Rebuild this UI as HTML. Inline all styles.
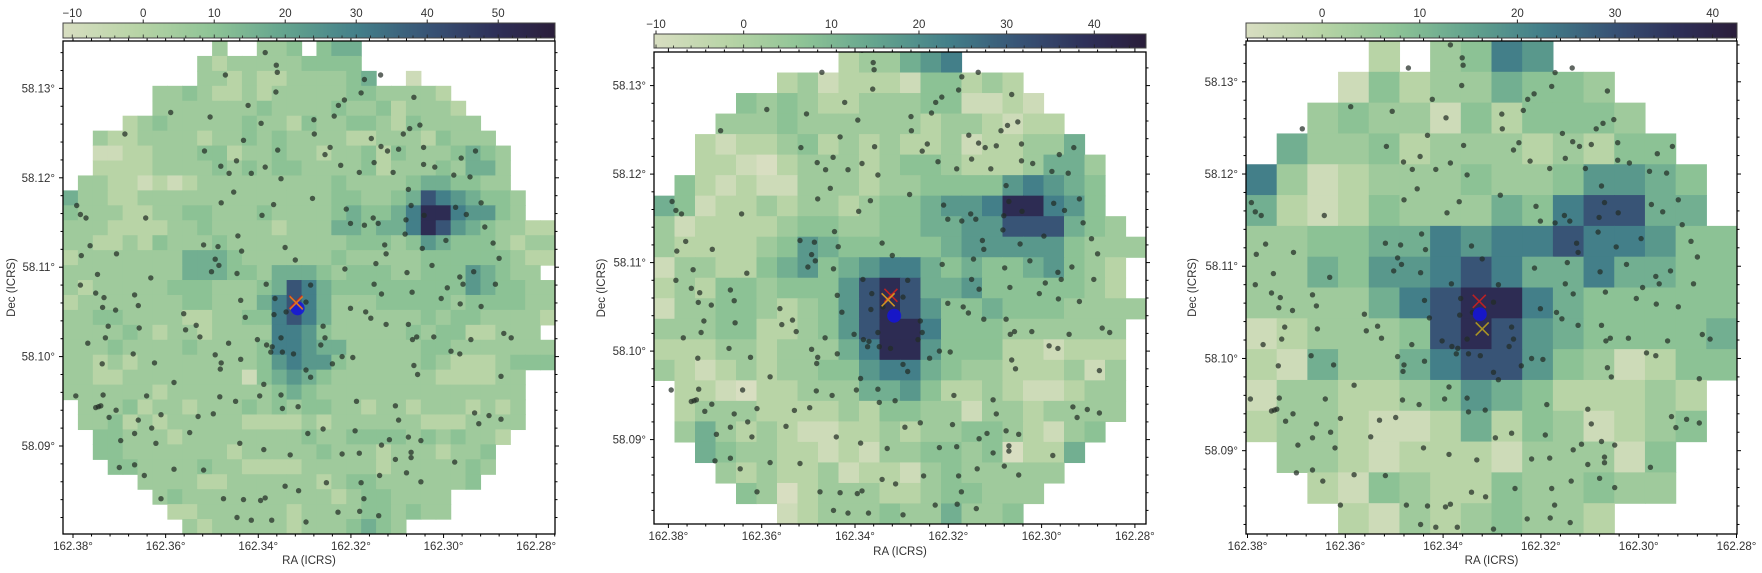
<!DOCTYPE html>
<html><head><meta charset="utf-8"><title>Sky density maps</title>
<style>
html,body{margin:0;padding:0;background:#fff;}
svg{display:block;font-family:"Liberation Sans","DejaVu Sans",sans-serif;}
</style></head>
<body>
<svg id="chart" width="1762" height="573" viewBox="0 0 1762 573" xmlns="http://www.w3.org/2000/svg"></svg>
<script>
// ---------- data ----------
const raTicks = [162.38,162.36,162.34,162.32,162.30,162.28];
const raTickLabels = ["162.38°","162.36°","162.34°","162.32°","162.30°","162.28°"];
const decTicks = [58.13,58.12,58.11,58.10,58.09];
const decTickLabels = ["58.13°","58.12°","58.11°","58.10°","58.09°"];
const levelT = [0.0,0.05,0.15,0.24,0.31,0.40,0.50,0.60,0.74,0.90];

const grid1 = [
"..........3"+"..334.455.."+"...........",
".........32"+"333334444.."+"...........",
".........33"+"2322333345."+".1.........",
"......33432"+"23233333443"+"3332.......",
"......33333"+"33433334334"+"23332......",
"....2343333"+"34332433443"+"243333.....",
"..322333323"+"34343333223"+"3324333....",
"..112233344"+"23343323342"+"43334543...",
"..222233334"+"34344333342"+"33343553...",
".3322121233"+"33333334333"+"34554433...",
"53322333333"+"33333334433"+"458765443..",
"43332233443"+"33433334544"+"579976643..",
"33322223343"+"33323335545"+"57986543322",
"33223243334"+"33333333444"+"34654443233",
"23333333555"+"43333334333"+"33444444322",
"33333333555"+"44355543444"+"3344465433.",
"32333334443"+"33458754444"+"44444654433",
"23333333443"+"33578753334"+"44443444433",
"33443333223"+"34478753333"+"33434433332",
"33334323323"+"33377643333"+"3434422333.",
"33343333433"+"33477655333"+"33443333333",
"33232333333"+"33467664333"+"33432223444",
"33223333333"+"31456543333"+"333222233..",
"33333323333"+"33345433333"+"333333333..",
".3334233233"+"34343443323"+"323332323..",
".3342323333"+"32222323333"+"332223333..",
"..443332333"+"33333433444"+"43434332...",
"..443333333"+"23333343332"+"3332334....",
"...44333343"+"32222333332"+"3333343....",
".....333322"+"33333323443"+"333334.....",
"......34333"+"33333332344"+"3333.......",
".......2233"+"33332333344"+"3433.......",
"........323"+"33332333454"+"3.........."
];
const grid2 = [
".........233567.........",
"......231222144232......",
"....434322333441121.....",
"...33343333332332122....",
"..2122342323223122335...",
"..22102333234432223553..",
".421211333233444467654..",
"5412232332344566799764..",
"31222234433445566888543.",
"322223465444445666664333",
"13322456456775454456432.",
"23244344468985564444432.",
"133443234689864454443333",
"33344223468997444333333.",
"22233233357996444221222.",
"32123233446775433222313.",
".2210223335564223211233.",
".2333222232443313323333.",
".353232112232334432134..",
"..5433221213344340225...",
"...32322312213433333....",
"....430233322344333.....",
"......123334335334......"
];
const grid3 = [
"....2.3476......",
"...142335443....",
"..34331424443...",
".5334233323244..",
"731233343346654.",
"521243335478855.",
"3344557677877644",
"3354667875575544",
"3333578997544444",
"1233348986544445",
"2153357886431244",
"133223465422232.",
"233211252431234.",
".3321222133314..",
"..214322433433..",
"...213234332...."
];
const pointRA = [162.3385,162.3361,162.3359,162.3471,162.3136,162.3171,162.3362,162.3178,162.3064,162.3422,162.3227,162.3214,162.3589,162.3504,162.3236,162.3280,162.3394,162.3051,162.3073,162.3087,162.3279,162.3688,162.3432,162.3156,162.3245,162.3135,162.3516,162.3358,162.3121,162.3097,162.3043,162.2931,162.2962,162.3256,162.3447,162.3481,162.3385,162.3222,162.3150,162.3043,162.3019,162.3463,162.3415,162.3182,162.3109,162.2978,162.2943,162.3351,162.3453,162.3076,162.3283,162.3480,162.3367,162.2919,162.3070,162.2974,162.3792,162.3784,162.3772,162.3643,162.3392,162.3210,162.3042,162.2951,162.3081,162.3152,162.3201,162.3141,162.3171,162.2911,162.3444,162.3083,162.2995,162.3763,162.3518,162.3487,162.3436,162.3127,162.3124,162.2893,162.3342,162.3046,162.3782,162.3706,162.3493,162.2880,162.3485,162.3320,162.3501,162.3446,162.3146,162.3213,162.3025,162.3079,162.2935,162.2965,162.3747,162.3632,162.3383,162.3287,162.3150,162.2958,162.2888,162.3784,162.2992,162.3751,162.3733,162.3667,162.3068,162.3134,162.3005,162.3364,162.3438,162.3297,162.2964,162.3736,162.3708,162.3659,162.3201,162.2919,162.3561,162.3366,162.3340,162.3168,162.3157,162.3428,162.3076,162.3724,162.3534,162.3124,162.3657,162.3260,162.3557,162.3526,162.3730,162.3058,162.3067,162.3021,162.2854,162.2870,162.2941,162.3402,162.3351,162.3256,162.3464,162.3382,162.3370,162.3768,162.3265,162.3670,162.3493,162.3373,162.3348,162.3324,162.2984,162.2965,162.3219,162.3196,162.3737,162.3624,162.3480,162.3482,162.3438,162.3240,162.3064,162.3297,162.3056,162.3287,162.2876,162.3582,162.3388,162.3794,162.3735,162.3641,162.3397,162.3351,162.3483,162.3449,162.3188,162.3751,162.3745,162.3740,162.3104,162.3722,162.3707,162.3659,162.3610,162.3530,162.3497,162.3314,162.3348,162.2933,162.2902,162.2876,162.3097,162.2924,162.3630,162.3667,162.3260,162.3293,162.3191,162.3548,162.3076,162.3117,162.3049,162.3697,162.3621,162.3440,162.3388,162.3134,162.3182,162.3219,162.3331,162.3070,162.3070,162.3104,162.2976,162.3667,162.3700,162.3582,162.3518,162.3646,162.3138,162.3080,162.3253,162.3178,162.3049,162.3342,162.3313,162.3610,162.3475,162.3432,162.3395,162.3385,162.3172,162.3228,162.3181,162.3140,162.3446,162.3415,162.3371,162.3297];
const pointDec = [58.1340,58.1326,58.1318,58.1315,58.1315,58.1310,58.1296,58.1295,58.1290,58.1281,58.1281,58.1287,58.1273,58.1268,58.1269,58.1265,58.1261,58.1259,58.1255,58.1249,58.1249,58.1249,58.1242,58.1244,58.1234,58.1235,58.1230,58.1231,58.1230,58.1232,58.1234,58.1230,58.1222,58.1226,58.1219,58.1213,58.1212,58.1214,58.1217,58.1215,58.1212,58.1205,58.1205,58.1206,58.1206,58.1203,58.1201,58.1199,58.1184,58.1187,58.1177,58.1172,58.1170,58.1172,58.1169,58.1167,58.1169,58.1159,58.1155,58.1155,58.1158,58.1165,58.1158,58.1159,58.1153,58.1155,58.1149,58.1149,58.1147,58.1145,58.1135,58.1137,58.1130,58.1124,58.1125,58.1123,58.1118,58.1125,58.1115,58.1127,58.1122,58.1121,58.1113,58.1115,58.1109,58.1110,58.1102,58.1108,58.1095,58.1093,58.1104,58.1098,58.1102,58.1094,58.1095,58.1089,58.1092,58.1088,58.1081,58.1080,58.1081,58.1081,58.1081,58.1080,58.1077,58.1071,58.1066,58.1069,58.1072,58.1070,58.1065,58.1065,58.1063,58.1061,58.1059,58.1055,58.1052,58.1057,58.1054,58.1056,58.1048,58.1047,58.1050,58.1050,58.1043,58.1044,58.1036,58.1034,58.1035,58.1036,58.1032,58.1034,58.1030,58.1022,58.1021,58.1022,58.1019,58.1022,58.1021,58.1026,58.1019,58.1019,58.1021,58.1021,58.1015,58.1013,58.1011,58.1015,58.1013,58.1003,58.1002,58.1005,58.1005,58.1003,58.1006,58.1003,58.1000,58.0999,58.0992,58.0993,58.0993,58.0986,58.0997,58.0992,58.0990,58.0985,58.0980,58.0977,58.0978,58.0971,58.0969,58.0956,58.0957,58.0956,58.0956,58.0957,58.0955,58.0950,58.0950,58.0943,58.0944,58.0945,58.0945,58.0932,58.0940,58.0929,58.0935,58.0933,58.0936,58.0944,58.0942,58.0937,58.0934,58.0930,58.0929,58.0925,58.0920,58.0914,58.0919,58.0914,58.0917,58.0915,58.0910,58.0907,58.0906,58.0906,58.0903,58.0903,58.0896,58.0901,58.0892,58.0891,58.0890,58.0893,58.0887,58.0885,58.0882,58.0879,58.0876,58.0874,58.0873,58.0867,58.0867,58.0870,58.0859,58.0859,58.0860,58.0855,58.0850,58.0841,58.0841,58.0840,58.0839,58.0842,58.0841,58.0826,58.0827,58.0822,58.0820,58.0817,58.0817,58.0815];
const markerNames = ["red-cross","orange-cross","blue-circle"];
const markerRA1 = [162.3319,162.3318,162.3315];
const markerDec1 = [58.1061,58.1060,58.1054];
const markerRA2 = [162.3323,162.3329,162.3316];
const markerDec2 = [58.1063,58.1058,58.1040];
const markerRA3 = [162.3326,162.3320,162.3325];
const markerDec3 = [58.1062,58.1032,58.1048];
const cbTicks1 = [-10,0,10,20,30,40,50];
const cbTicks2 = [-10,0,10,20,30,40];
const cbTicks3 = [0,10,20,30,40];

// ---------- layout ----------
const panels = [
 {id:1, ax:{x:63,y:41,w:492,h:493}, cb:{y:23,h:15}, vmin:-11.3, vmax:58.0, ra0:73.0, raS:4632, dec0:88.4, decS:8940, grid:grid1, cbt:cbTicks1, mra:markerRA1, mdec:markerDec1, xlab:{y:564}, tlab:550, dlx:12, xcol:"#e08020"},
 {id:2, ax:{x:654,y:52,w:492,h:472}, cb:{y:34,h:14}, vmin:-10.23, vmax:45.9, ra0:668.4, raS:4665, dec0:85.6, decS:8850, grid:grid2, cbt:cbTicks2, mra:markerRA2, mdec:markerDec2, xlab:{y:555}, tlab:540, dlx:602, xcol:"#e0a020"},
 {id:3, ax:{x:1246,y:41,w:491,h:493}, cb:{y:23,h:15}, vmin:-7.8, vmax:42.5, ra0:1247.5, raS:4890, dec0:81.8, decS:9222, grid:grid3, cbt:cbTicks3, mra:markerRA3, mdec:markerDec3, xlab:{y:564}, tlab:550, dlx:1193, xcol:"#b8a020"}
];
const stops = [[0,[216,222,193]],[0.15,[184,212,166]],[0.3,[143,196,150]],[0.45,[100,164,142]],[0.6,[67,127,137]],[0.74,[56,84,118]],[0.88,[46,47,88]],[1,[42,29,58]]];
function cmap(t){t=Math.max(0,Math.min(1,t));for(let i=1;i<stops.length;i++){if(t<=stops[i][0]){const a=stops[i-1],b=stops[i];const f=(t-a[0])/(b[0]-a[0]);const c=a[1].map((v,k)=>Math.round(v+(b[1][k]-v)*f));return `rgb(${c[0]},${c[1]},${c[2]})`;}}return "rgb(42,29,58)";}

const NS="http://www.w3.org/2000/svg";
const svg=document.getElementById('chart');
function mk(tag,attrs,parent){const e=document.createElementNS(NS,tag);for(const k in attrs)e.setAttribute(k,attrs[k]);(parent||svg).appendChild(e);return e;}
const txtCol="#333";

const defs=mk('defs',{});
const grad=mk('linearGradient',{id:'cbgrad',x1:'0',x2:'1',y1:'0',y2:'0'},defs);
for(let i=0;i<=40;i++){const t=i/40;mk('stop',{offset:t,'stop-color':cmap(t)},grad);}

panels.forEach(p=>{
  const A=p.ax;
  const xOf=ra=>p.ra0+(162.38-ra)*p.raS;
  const yOf=dec=>p.dec0+(58.13-dec)*p.decS;
  const g=mk('g',{});
  
  
  const cp=mk('clipPath',{id:'clip'+p.id},defs);
  mk('rect',{x:A.x,y:A.y,width:A.w,height:A.h},cp);

  const hm=mk('g',{'clip-path':`url(#clip${p.id})`},g);
  
  
  const nr=p.grid.length;
  let nc=0;p.grid.forEach(r=>{nc=Math.max(nc,r.length);});
  const cw=A.w/nc, ch=A.h/nr;
  p.grid.forEach((row,ri)=>{
    for(let ci=0;ci<row.length&&ci<nc;ci++){
      const c=row[ci]; if(c==='.'||c===' ')continue;
      const val=p.vmin+levelT[+c]*(p.vmax-p.vmin);
      const t=(val-p.vmin)/(p.vmax-p.vmin);
      const r=mk('rect',{x:(A.x+ci*cw).toFixed(2),y:(A.y+ri*ch).toFixed(2),width:(cw+0.6).toFixed(2),height:(ch+0.6).toFixed(2),fill:cmap(t)},hm);
      
      
    }
  });

  const pts=mk('g',{'clip-path':`url(#clip${p.id})`},g);
  
  
  for(let i=0;i<pointRA.length;i++){
    const c=mk('circle',{cx:xOf(pointRA[i]).toFixed(1),cy:yOf(pointDec[i]).toFixed(1),r:2.7,fill:'rgba(35,45,38,0.72)'},pts);
    
    
  }

  const bx=xOf(p.mra[2]),by=yOf(p.mdec[2]);
  const bc=mk('circle',{cx:bx,cy:by,r:7,fill:'rgba(20,20,220,0.85)'},g);
  
  
  [[0,'#cc2020'],[1,p.xcol]].forEach(([k,col])=>{
    const x=xOf(p.mra[k]),y=yOf(p.mdec[k]),s=6.5;
    const xg=mk('g',{stroke:col,'stroke-width':1.6,opacity:0.9},g);
    
    
    mk('line',{x1:x-s,y1:y-s,x2:x+s,y2:y+s},xg);
    mk('line',{x1:x-s,y1:y+s,x2:x+s,y2:y-s},xg);
  });

  const fr=mk('rect',{x:A.x,y:A.y,width:A.w,height:A.h,fill:'none',stroke:'#000','stroke-width':1.3},g);
  
  

  const tk=mk('g',{stroke:'#000','stroke-width':1},g);
  
  
  for(let k=0;k<=30;k++){
    const ra=162.384-k*0.004; const x=xOf(ra);
    if(x<A.x-0.5||x>A.x+A.w+0.5)continue;
    const major=(Math.round(ra*1000)%20===0);
    const L=major?4:2.5;
    mk('line',{x1:x,y1:A.y+A.h,x2:x,y2:A.y+A.h+L},tk);
    mk('line',{x1:x,y1:A.y,x2:x,y2:A.y-L},tk);
  }
  for(let k=0;k<=40;k++){
    const dec=58.136-k*0.002; const y=yOf(dec);
    if(y<A.y-0.5||y>A.y+A.h+0.5)continue;
    const major=(Math.round(dec*1000)%10===0);
    const L=major?4:2.5;
    mk('line',{x1:A.x,y1:y,x2:A.x-L,y2:y},tk);
    mk('line',{x1:A.x+A.w,y1:y,x2:A.x+A.w+L,y2:y},tk);
  }
  raTicks.forEach((ra,i)=>{
    const t=mk('text',{x:xOf(ra),y:p.tlab,'font-size':11.5,fill:txtCol,'text-anchor':'middle'},g);
    t.textContent=raTickLabels[i];
    
    
  });
  decTicks.forEach((d,i)=>{
    const y=yOf(d); if(y<A.y||y>A.y+A.h)return;
    const t=mk('text',{x:A.x-8,y:y+4,'font-size':11.5,fill:txtCol,'text-anchor':'end'},g);
    t.textContent=decTickLabels[i];
    
    
  });
  const xl=mk('text',{x:A.x+A.w/2,y:p.xlab.y,'font-size':11.5,fill:txtCol,'text-anchor':'middle'},g);
  xl.textContent='RA (ICRS)';
  
  
  const cy=A.y+A.h/2;
  const yl=mk('text',{x:p.dlx,y:cy,'font-size':11.5,fill:txtCol,'text-anchor':'middle',transform:`rotate(-90 ${p.dlx} ${cy})`,'dominant-baseline':'central'},g);
  yl.textContent='Dec (ICRS)';
  
  

  const cbg=mk('g',{},g);
  
  
  mk('rect',{x:A.x,y:p.cb.y,width:A.w,height:p.cb.h,fill:'url(#cbgrad)',stroke:'#444','stroke-width':1},cbg);
  const cx=v=>A.x+(v-p.vmin)/(p.vmax-p.vmin)*A.w;
  for(let v=Math.ceil(p.vmin/2)*2;v<=p.vmax;v+=2){
    if(v%10===0)continue;
    mk('line',{x1:cx(v),y1:p.cb.y+p.cb.h,x2:cx(v),y2:p.cb.y+p.cb.h-2.5,stroke:'#222','stroke-width':0.8},cbg);
  }
  p.cbt.forEach(v=>{
    const x=cx(v);
    mk('line',{x1:x,y1:p.cb.y,x2:x,y2:p.cb.y-3.5,stroke:'#222','stroke-width':1},cbg);
    mk('line',{x1:x,y1:p.cb.y+p.cb.h,x2:x,y2:p.cb.y+p.cb.h-3.5,stroke:'#222','stroke-width':0.8},cbg);
    const t=mk('text',{x:x,y:p.cb.y-6,'font-size':11.5,fill:txtCol,'text-anchor':'middle'},cbg);
    t.textContent=(v<0?'\u2212'+Math.abs(v):String(v));
    
    
  });
});
</script>
</body></html>
